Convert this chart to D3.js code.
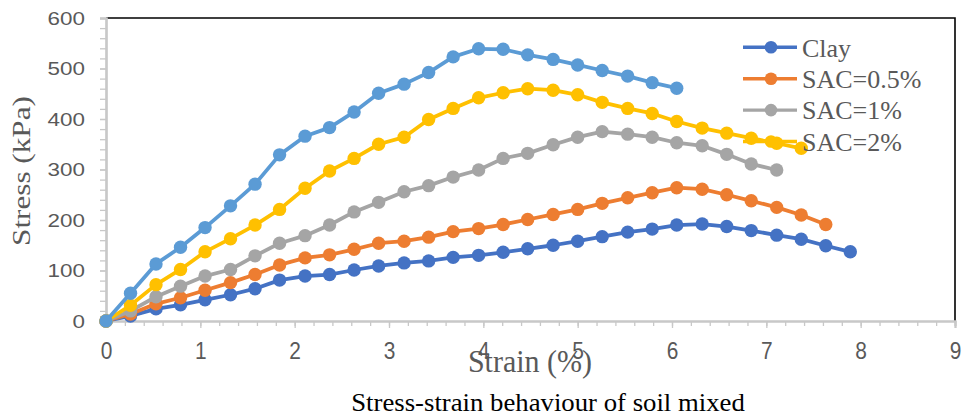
<!DOCTYPE html>
<html>
<head>
<meta charset="utf-8">
<script src="https://cdn.jsdelivr.net/npm/d3@7"></script>
<style>
  html, body { margin: 0; padding: 0; background: #fff; }
  svg { display: block; }
</style>
</head>
<body>
<svg id="chart" width="962" height="418"></svg>
<script>
// ---- data ----
const strain = [0, 0.26, 0.53, 0.79, 1.05, 1.32, 1.58, 1.84, 2.11, 2.37, 2.63, 2.89, 3.16, 3.42, 3.68, 3.95, 4.21, 4.47, 4.74, 5.00, 5.26, 5.53, 5.79, 6.05, 6.32, 6.58, 6.84, 7.11, 7.37, 7.63, 7.89];
const clay   = [0, 10, 24, 32, 42, 52, 64, 81, 89, 92, 101, 109, 115, 119, 126, 130, 136, 143, 150, 158, 167, 176, 182, 190, 192, 187, 179, 170, 162, 149, 137];
const sac05  = [0, 14, 34, 46, 61, 76, 92, 111, 125, 131, 142, 154, 158, 166, 177, 183, 191, 201, 211, 221, 233, 244, 254, 264, 261, 250, 238, 225, 210, 191];
const sac1   = [0, 20, 48, 69, 89, 102, 129, 154, 169, 190, 216, 235, 256, 268, 285, 299, 322, 332, 349, 364, 375, 370, 364, 353, 347, 330, 311, 299];
const sac2   = [0, 31, 72, 102, 137, 163, 190, 221, 263, 297, 322, 350, 364, 399, 421, 442, 452, 460, 457, 448, 433, 421, 411, 395, 382, 372, 362, 352, 342];
const sac3   = [0, 55, 113, 146, 185, 228, 271, 329, 366, 383, 414, 451, 469, 492, 523, 539, 538, 527, 518, 507, 496, 485, 472, 461];
const seriesNames  = ["Clay", "SAC=0.5%", "SAC=1%", "SAC=2%", "SAC=3%"];
const seriesValues = [clay, sac05, sac1, sac2, sac3];
const seriesColors = ["#4472C4", "#ED7D31", "#A5A5A5", "#FFC000", "#5B9BD5"];
const legendCount = 4; // only four entries are visible in the reference legend
const xMajorTicks = [0, 1, 2, 3, 4, 5, 6, 7, 8, 9];
const yMajorTicks = [0, 100, 200, 300, 400, 500, 600];
const xTitle = "Strain (%)";
const yTitle = "Stress (kPa)";
const chartTitle = "Stress-strain behaviour of soil mixed";

// ---- layout ----
const svg = d3.select("#chart");
const pLeft = 106, pRight = 955, pTop = 18, pBottom = 321;
const x = d3.scaleLinear().domain([0, 9]).range([pLeft, pRight]);
const y = d3.scaleLinear().domain([0, 600]).range([pBottom, pTop]);
const sans = "'Liberation Sans', Arial, sans-serif";
const serif = "'Liberation Serif', 'Times New Roman', serif";
const grayText = "#595959";
const axisGray = "#C8C8C8";

// plot-area border (black on top and right)
svg.append("path")
  .attr("d", `M${pLeft},${pTop}H${pRight}V${pBottom}`)
  .attr("fill", "none").attr("stroke", "#000").attr("stroke-width", 1.6);

// x minor ticks
const xMinor = d3.range(0, 46).map(i => +(i * 0.2).toFixed(2));
const gxMinor = svg.append("g").attr("transform", `translate(0,${pBottom})`)
  .call(d3.axisBottom(x).tickValues(xMinor).tickSize(5).tickFormat(""));
// x major ticks + labels
const gx = svg.append("g").attr("transform", `translate(0,${pBottom})`)
  .call(d3.axisBottom(x).tickValues(xMajorTicks).tickSize(7).tickPadding(14).tickFormat(d3.format("d")));
[gxMinor, gx].forEach(g => {
  g.select(".domain").attr("stroke", axisGray).attr("stroke-width", 2.2);
  g.selectAll(".tick line").attr("stroke", axisGray).attr("stroke-width", 1.3);
});
gx.selectAll(".tick text")
  .attr("fill", grayText).attr("font-family", sans).attr("font-size", 22)
  .attr("dy", "0.71em")
  .each(function() {
    const t = d3.select(this);
    const yy = +t.attr("y");
    t.attr("y", 0).attr("transform", `translate(0,${yy}) scale(0.95,1.1)`);
  });

// y minor ticks
const yMinor = d3.range(0, 31).map(i => i * 20);
const gyMinor = svg.append("g").attr("transform", `translate(${pLeft},0)`)
  .call(d3.axisLeft(y).tickValues(yMinor).tickSize(6).tickFormat(""));
const gy = svg.append("g").attr("transform", `translate(${pLeft},0)`)
  .call(d3.axisLeft(y).tickValues(yMajorTicks).tickSize(6).tickPadding(15).tickFormat(d3.format("d")));
[gyMinor, gy].forEach(g => {
  g.select(".domain").attr("stroke", axisGray).attr("stroke-width", 2.2);
  g.selectAll(".tick line").attr("stroke", axisGray).attr("stroke-width", 1.3);
});
gy.selectAll(".tick text")
  .attr("fill", grayText).attr("font-family", sans).attr("font-size", 19)
  .each(function() {
    const t = d3.select(this);
    const xx = +t.attr("x");
    t.attr("x", 0).attr("transform", `translate(${xx},0) scale(1.18,1)`);
  });

// series lines and markers
const line = d3.line().x(d => x(d[0])).y(d => y(d[1]));
seriesValues.forEach((vals, i) => {
  const pts = vals.map((v, j) => [strain[j], v]);
  const g = svg.append("g").attr("class", "series");
  g.append("path").datum(pts)
    .attr("d", line).attr("fill", "none")
    .attr("stroke", seriesColors[i]).attr("stroke-width", 3.8)
    .attr("stroke-linejoin", "round");
  g.selectAll("circle").data(pts).join("circle")
    .attr("cx", d => x(d[0])).attr("cy", d => y(d[1]))
    .attr("r", 6.7).attr("fill", seriesColors[i]);
});

// legend
const legend = svg.append("g").attr("transform", "translate(743,47.3)");
seriesNames.slice(0, legendCount).forEach((name, i) => {
  const row = legend.append("g").attr("transform", `translate(0,${i * 31.4})`);
  row.append("line").attr("x1", 0).attr("x2", 54).attr("y1", 0).attr("y2", 0)
    .attr("stroke", seriesColors[i]).attr("stroke-width", 3.4);
  row.append("circle").attr("cx", 28).attr("cy", 0).attr("r", 6.3).attr("fill", seriesColors[i]);
  row.append("text").attr("x", 59).attr("y", 9.2)
    .attr("font-family", serif).attr("font-size", 26).attr("fill", grayText)
    .text(name);
});

// axis titles
svg.append("text")
  .attr("transform", "translate(30,171) rotate(-90) scale(1.2,1)")
  .attr("text-anchor", "middle")
  .attr("font-family", serif).attr("font-size", 26).attr("fill", grayText)
  .text(yTitle);
svg.append("text")
  .attr("transform", "translate(530,372) scale(1,1.08)")
  .attr("text-anchor", "middle")
  .attr("font-family", serif).attr("font-size", 30).attr("fill", grayText)
  .text(xTitle);

// chart caption
svg.append("text")
  .attr("transform", "translate(548,411) scale(1.07,1)")
  .attr("text-anchor", "middle")
  .attr("font-family", serif).attr("font-size", 25).attr("fill", "#000")
  .text(chartTitle);
</script>
</body>
</html>
